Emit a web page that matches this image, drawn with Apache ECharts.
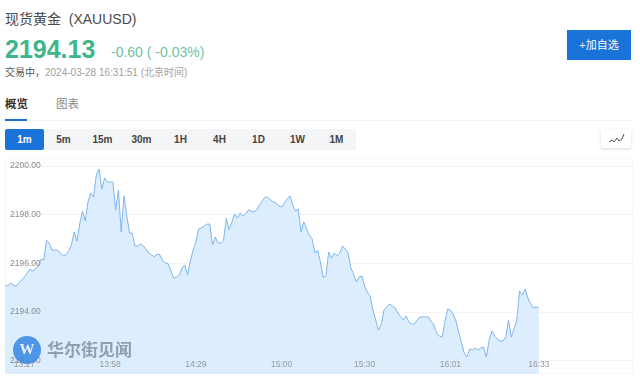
<!DOCTYPE html>
<html>
<head>
<meta charset="utf-8">
<title>现货黄金 (XAUUSD)</title>
<script src="https://cdn.jsdelivr.net/npm/echarts@6/dist/echarts.min.js"></script>
<style>
  html, body { margin: 0; padding: 0; background: #fff; }
  body { width: 640px; height: 382px; overflow: hidden; position: relative; font-family: "Liberation Sans", "Noto Sans CJK SC", sans-serif; }
  .abs { position: absolute; white-space: nowrap; line-height: 1; }
  #title { left: 5px; top: 12px; font-size: 14px; color: #4a4a4a; }
  #price { left: 5px; top: 37px; font-size: 25px; font-weight: bold; color: #3fb58c; }
  #change { left: 111px; top: 45px; font-size: 14px; color: #6cc4a4; }
  #status { left: 5px; top: 68px; font-size: 10px; color: #a0a0a0; }
  #status b { color: #555; font-weight: normal; }
  #add { left: 567px; top: 30px; width: 64px; height: 30px; line-height: 30px; text-align: center; background: #1a73d8; color: #fff; font-size: 11px; }
  #tab1 { left: 5px; top: 99px; font-size: 11.5px; font-weight: bold; color: #333; }
  #tab2 { left: 56px; top: 99px; font-size: 11.5px; color: #8a8a8a; }
  #tabline { left: 5px; top: 120px; width: 627px; height: 1px; background: #f4f4f4; }
  #tabmark { left: 5px; top: 119px; width: 22px; height: 2px; background: #1a73d8; }
  #ranges { left: 5px; top: 129px; width: 351px; height: 21px; background: #f3f5f7; display: flex; border-radius: 2px; }
  #ranges span { width: 39px; text-align: center; line-height: 21px; font-size: 10px; color: #444; font-weight: bold; }
  #ranges span.on { background: #1a73d8; color: #fff; border-radius: 2px; }
  #icon { left: 601px; top: 129px; width: 30px; height: 19px; background: #fff; box-shadow: 0 1px 3px rgba(0,0,0,.14); }
  #chart { position: absolute; left: 5px; top: 158px; width: 628px; height: 216px; }
</style>
</head>
<body>
<div class="abs" id="title">现货黄金&nbsp;&nbsp;(XAUUSD)</div>
<div class="abs" id="price">2194.13</div>
<div class="abs" id="change">-0.60 ( -0.03%)</div>
<div class="abs" id="status"><b>交易中，</b>2024-03-28 16:31:51 (北京时间)</div>
<div class="abs" id="add">+加自选</div>
<div class="abs" id="tab1">概览</div>
<div class="abs" id="tab2">图表</div>
<div class="abs" id="tabline"></div>
<div class="abs" id="tabmark"></div>
<div class="abs" id="ranges"></div>
<div class="abs" id="icon">
  <svg width="30" height="19"><polyline points="8,13 11,11 13,13 16,9 18,12 21,10 23,5" fill="none" stroke="#555" stroke-width="1"/></svg>
</div>
<div id="chart"></div>
<script>
const rangeLabels = ['1m', '5m', '15m', '30m', '1H', '4H', '1D', '1W', '1M'];
const priceTicks = [2192, 2194, 2196, 2198, 2200];
const timeTicks = ['13:27', '13:58', '14:29', '15:00', '15:30', '16:01', '16:33'];
// one price per minute from 13:20
const prices = [
  2195.10, 2195.06, 2195.19, 2195.10, 2195.06, 2195.19, 2195.31, 2195.43, 2195.60, 2195.76,
  2195.68, 2195.76, 2195.89, 2196.17, 2196.13, 2196.95, 2196.83, 2196.54, 2196.54, 2196.54,
  2196.42, 2196.30, 2196.34, 2196.50, 2196.75, 2197.28, 2196.91, 2197.61, 2198.15, 2197.74,
  2198.52, 2198.89, 2198.72, 2199.63, 2199.88, 2199.05, 2199.51, 2199.34, 2199.34, 2199.34,
  2198.19, 2199.01, 2197.28, 2198.77, 2197.98, 2197.24, 2197.24, 2196.71, 2196.71, 2196.79,
  2196.71, 2196.58, 2196.42, 2196.34, 2196.26, 2196.38, 2196.34, 2196.09, 2196.01, 2195.97,
  2195.68, 2195.39, 2195.43, 2195.51, 2195.80, 2195.93, 2195.51, 2196.09, 2196.54, 2196.87,
  2197.41, 2197.45, 2197.53, 2197.61, 2197.61, 2196.75, 2197.08, 2196.83, 2196.83, 2196.95,
  2197.86, 2197.37, 2197.70, 2198.03, 2197.86, 2198.07, 2197.94, 2198.03, 2198.19, 2198.15,
  2198.11, 2198.19, 2198.40, 2198.56, 2198.72, 2198.72, 2198.60, 2198.52, 2198.48, 2198.35,
  2198.31, 2198.48, 2198.64, 2198.77, 2198.40, 2198.15, 2198.23, 2197.28, 2197.70, 2197.41,
  2197.16, 2197.00, 2196.42, 2196.54, 2196.05, 2195.43, 2195.47, 2196.46, 2196.21, 2196.42,
  2196.30, 2196.42, 2196.71, 2196.58, 2196.42, 2195.80, 2195.56, 2195.23, 2195.43, 2195.47,
  2195.06, 2194.81, 2194.65, 2194.07, 2193.66, 2193.25, 2193.50, 2194.07, 2194.20, 2194.32,
  2194.24, 2194.16, 2193.95, 2193.79, 2193.66, 2193.83, 2193.58, 2193.50, 2193.50, 2193.66,
  2193.79, 2193.79, 2193.79, 2193.79, 2193.62, 2193.46, 2193.13, 2193.00, 2192.96, 2193.58,
  2194.12, 2194.07, 2193.91, 2193.62, 2193.17, 2192.72, 2192.30, 2192.14, 2192.47, 2192.43,
  2192.51, 2192.43, 2192.51, 2192.55, 2192.14, 2192.84, 2193.21, 2193.00, 2192.88, 2192.80,
  2192.80, 2192.96, 2193.66, 2192.96, 2193.29, 2193.66, 2194.86, 2194.69, 2194.94, 2194.57,
  2194.32, 2194.16, 2194.20, 2194.16
];

document.getElementById('ranges').innerHTML = rangeLabels
  .map((r, i) => `<span class="${i === 0 ? 'on' : ''}">${r}</span>`).join('');

// the axis keeps running past the last price, the session isn't over yet
const minutes = [];
for (let i = 0; i < 228; i++) {
  const t = 13 * 60 + 20 + i;
  minutes.push(String(Math.floor(t / 60)).padStart(2, '0') + ':' + String(t % 60).padStart(2, '0'));
}

const yRange = { type: 'value', min: 2191.44, max: 2200.33, axisLine: { show: false } };

const chart = echarts.init(document.getElementById('chart'));
chart.setOption({
  animation: false,
  textStyle: { fontFamily: 'Liberation Sans' },
  grid: { left: 0, right: 0, top: 0, bottom: 0, show: true, borderColor: '#f0f0f0', borderWidth: 1 },
  xAxis: {
    type: 'category',
    data: minutes,
    boundaryGap: false,
    z: 10,
    axisLine: { show: false },
    axisTick: { show: false },
    splitLine: { show: false },
    axisLabel: {
      inside: true,
      margin: 5,
      fontSize: 8.5,
      color: '#999',
      hideOverlap: false,
      interval: (i, v) => timeTicks.includes(v)
    }
  },
  yAxis: [
    // grid lines stay under the area
    {
      ...yRange,
      z: 0,
      axisTick: { show: false, customValues: priceTicks },
      splitLine: { show: true, lineStyle: { color: '#f3f3f3', width: 1 } },
      axisLabel: { show: false }
    },
    // labels sit on top of it
    {
      ...yRange,
      position: 'left',
      z: 10,
      axisTick: { show: false },
      splitLine: { show: false },
      axisLabel: {
        inside: true,
        margin: 5,
        fontSize: 8.5,
        color: '#8c8c8c',
        customValues: priceTicks,
        formatter: v => v.toFixed(2)
      }
    }
  ],
  series: [{
    type: 'line',
    data: prices,
    symbol: 'none',
    z: 2,
    lineStyle: { color: '#7fb6ee', width: 1 },
    areaStyle: { color: '#dcedfd', opacity: 1 }
  }],
  graphic: [
    { type: 'circle', silent: true, z: 100, shape: { cx: 22, cy: 192, r: 14 }, style: { fill: 'rgba(64,140,230,.9)' } },
    { type: 'text', silent: true, z: 101, style: { x: 22, y: 192, text: 'W', align: 'center', verticalAlign: 'middle', fill: '#e8f2fd', font: 'bold 15px "Liberation Serif"' } },
    { type: 'text', silent: true, z: 101, style: { x: 42, y: 192, text: '华尔街见闻', verticalAlign: 'middle', fill: 'rgba(95,105,125,.6)', font: 'bold 17px "Noto Sans CJK SC"' } }
  ]
});
</script>
</body>
</html>
